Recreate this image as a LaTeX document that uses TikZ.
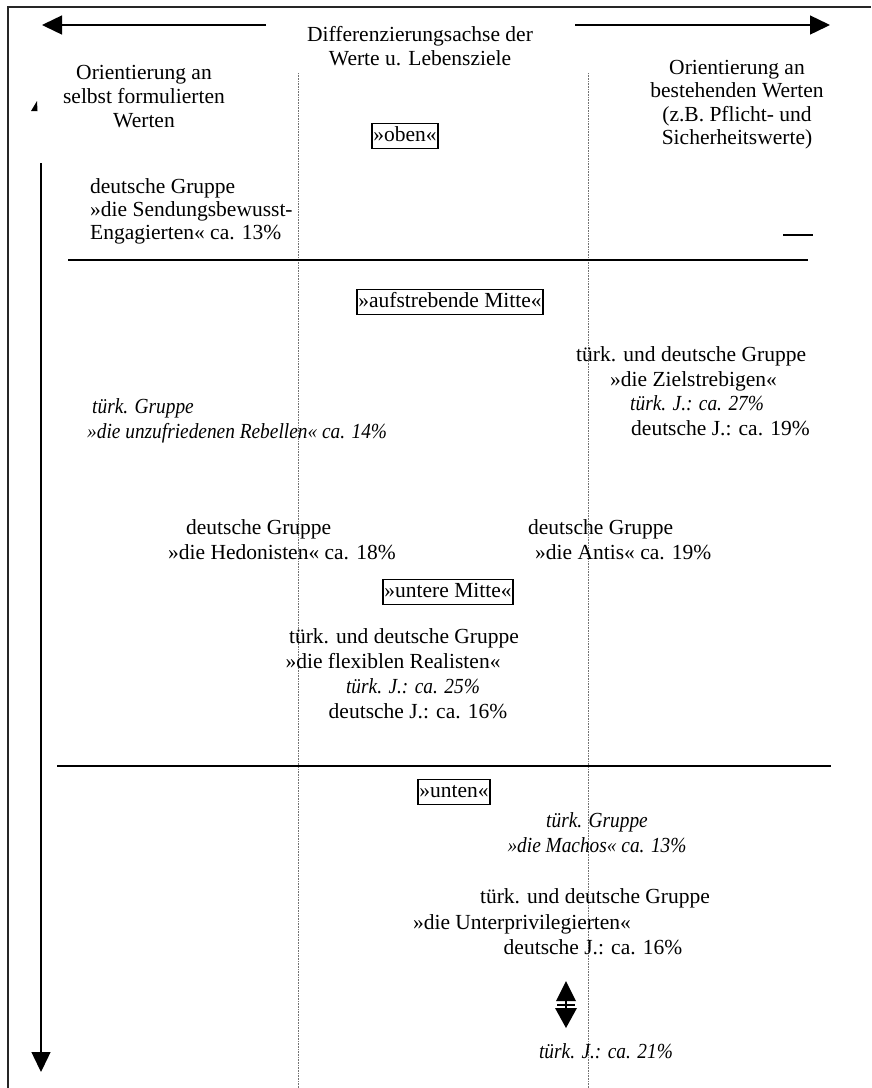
\documentclass[tikz,border=0pt]{standalone}
\usepackage{fontspec}
\setmainfont{Liberation Serif}[ItalicFeatures={FakeStretch=0.9}]
\usetikzlibrary{arrows.meta}
\newcommand\fsz{\fontsize{21.5}{23}\selectfont}
\begin{document}
\begin{tikzpicture}[x=1pt,y=-1pt,
  lbl/.style={inner sep=0pt, anchor=base, font=\fsz},
  lblw/.style={inner sep=0pt, anchor=base west, font=\fsz},
  itl/.style={font=\fsz\itshape},
  levelbox/.style={draw, line width=1.7pt, inner xsep=1.5pt, inner ysep=2.5pt,
     text height=15pt, text depth=5pt, anchor=center, font=\fsz},
  frameline/.style={line width=1.2pt, black!85},
  sepline/.style={line width=1.5pt},
  guide/.style={line width=0.6pt, black!55, dash pattern=on 0.8pt off 0.8pt},
  axis/.style={line width=1.4pt, -{Triangle[length=20pt,width=19pt]}},
  tip/.style={fill=black}
]
\useasboundingbox (0,0) rectangle (871,1088);
% frame
\coordinate (fTL) at (8,7);
\coordinate (fTR) at (871,7);
\coordinate (fBL) at (8,1088);
\draw[frameline] (fBL) -- (fTL) -- (fTR);
% dotted guide lines
\coordinate (g1t) at (298,73); \coordinate (g1b) at (298,1088);
\coordinate (g2t) at (588,73); \coordinate (g2b) at (588,1088);
\draw[guide] (g1t) -- (g1b);
\draw[guide] (g2t) -- (g2b);
% horizontal axis arrows
\coordinate (aLs) at (266,25); \coordinate (aLe) at (42,25);
\coordinate (aRs) at (575,25); \coordinate (aRe) at (830,25);
\draw[axis] (aLs) -- (aLe);
\draw[axis] (aRs) -- (aRe);
% vertical axis arrow
\coordinate (vS) at (41,163); \coordinate (vE) at (41,1072);
\draw[axis] (vS) -- (vE);
% small stray tip
\fill[tip] (31,111) -- (37.5,111) -- (37,101) -- cycle;
% separators
\coordinate (s1a) at (68,260); \coordinate (s1b) at (808,260);
\coordinate (s2a) at (57,766); \coordinate (s2b) at (831,766);
\coordinate (d1a) at (783,235); \coordinate (d1b) at (813,235);
\draw[sepline] (s1a) -- (s1b);
\draw[sepline] (s2a) -- (s2b);
\draw[sepline] (d1a) -- (d1b);
% header
\node[lbl] (h1) at (420,41) {Differenzierungsachse der};
\node[lbl] (h2) at (420,65) {Werte u. Lebensziele};
\node[lbl] (l1) at (144,79) {Orientierung an};
\node[lbl] (l2) at (144,103) {selbst formulierten};
\node[lbl] (l3) at (144,127) {Werten};
\node[lbl] (r1) at (737,74) {Orientierung an};
\node[lbl] (r2) at (737,97) {bestehenden Werten};
\node[lbl] (r3) at (737,121) {(z.B. Pflicht- und};
\node[lbl] (r4) at (737,144) {Sicherheitswerte)};
% level boxes
\node[levelbox] (oben) at (405,136) {»oben«};
\node[levelbox] (aufm) at (450,302) {»aufstrebende Mitte«};
\node[levelbox] (untm) at (448,592) {»untere Mitte«};
\node[levelbox] (unten) at (454,792) {»unten«};
% group: Sendungsbewusst-Engagierte
\node[lblw] (se1) at (90,193) {deutsche Gruppe};
\node[lblw] (se2) at (90,216) {»die Sendungsbewusst-};
\node[lblw] (se3) at (90,239) {Engagierten« ca. 13\%};
% group: Zielstrebige
\node[lblw] (zs1) at (576,361) {türk. und deutsche Gruppe};
\node[lblw] (zs2) at (610,386) {»die Zielstrebigen«};
\node[lblw,itl] (zs3) at (630,410) {türk. J.: ca. 27\%};
\node[lblw] (zs4) at (631,435) {deutsche J.: ca. 19\%};
% group: Rebellen
\node[lblw,itl] (rb1) at (92,413) {türk. Gruppe};
\node[lblw,itl] (rb2) at (87,438) {»die unzufriedenen Rebellen« ca. 14\%};
% group: Hedonisten
\node[lblw] (hd1) at (186,534) {deutsche Gruppe};
\node[lblw] (hd2) at (168,559) {»die Hedonisten« ca. 18\%};
% group: Antis
\node[lblw] (an1) at (528,534) {deutsche Gruppe};
\node[lblw] (an2) at (535,559) {»die Antis« ca. 19\%};
% group: flexible Realisten
\node[lbl] (fr1) at (404,643) {türk. und deutsche Gruppe};
\node[lbl] (fr2) at (393,668) {»die flexiblen Realisten«};
\node[lbl,itl] (fr3) at (413,693) {türk. J.: ca. 25\%};
\node[lbl] (fr4) at (418,718) {deutsche J.: ca. 16\%};
% group: Machos
\node[lbl,itl] (ma1) at (597,827) {türk. Gruppe};
\node[lbl,itl] (ma2) at (597,852) {»die Machos« ca. 13\%};
% group: Unterprivilegierte
\node[lbl] (up1) at (595,903) {türk. und deutsche Gruppe};
\node[lbl] (up2) at (522,929) {»die Unterprivilegierten«};
\node[lbl] (up3) at (593,954) {deutsche J.: ca. 16\%};
\node[lbl,itl] (up4) at (606,1058) {türk. J.: ca. 21\%};
% double arrow
\fill[tip] (566,981) -- (556,1001) -- (576,1001) -- cycle;
\draw[line width=1.4pt] (566,1000) -- (566,1010);
\draw[line width=1.4pt] (557,1005) -- (575,1005);
\fill[tip] (555,1008) -- (577,1008) -- (566,1028) -- cycle;
\end{tikzpicture}
\end{document}
